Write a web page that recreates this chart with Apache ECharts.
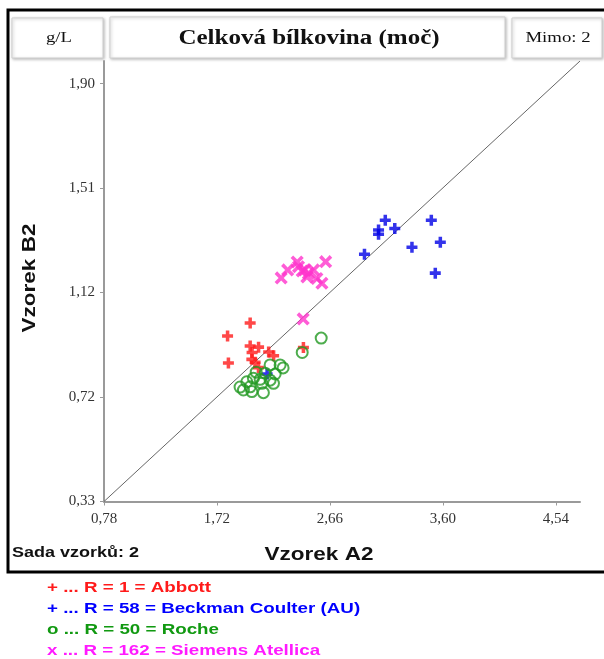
<!DOCTYPE html>
<html><head><meta charset="utf-8">
<script src="https://cdn.jsdelivr.net/npm/echarts@6/dist/echarts.min.js"></script>
<style>html,body{margin:0;padding:0;background:#fff}#c{width:604px;height:659px}</style>
</head><body><div id="c"></div>
<script>
const xTicks = [0.78, 1.72, 2.66, 3.60, 4.54];
const xTickLabels = ['0,78', '1,72', '2,66', '3,60', '4,54'];
const yTicks = [0.33, 0.7225, 1.115, 1.5075, 1.90];
const yTickLabels = ['0,33', '0,72', '1,12', '1,51', '1,90'];
const xRange = [0.78, 4.74];
const yRange = [0.33, 1.985];
const diagonal = [[0.78, 0.33], [4.74, 1.985]];

const abbott = [
  [1.996, 1.001], [1.808, 0.952], [1.815, 0.850], [1.996, 0.914], [2.066, 0.910],
  [2.012, 0.890], [2.150, 0.892], [2.010, 0.864], [2.191, 0.878], [2.065, 0.833],
  [2.439, 0.909], [2.037, 0.853]
];
const beckman = [
  [3.120, 1.387], [3.064, 1.350], [3.064, 1.334], [3.199, 1.356], [2.947, 1.259],
  [3.503, 1.387], [3.578, 1.304], [3.342, 1.285], [3.536, 1.188], [2.137, 0.809]
];
const roche = [
  [2.587, 0.944], [2.429, 0.890], [2.162, 0.843], [2.245, 0.843], [2.121, 0.812],
  [2.204, 0.809], [2.023, 0.793], [2.079, 0.789], [1.968, 0.780], [2.162, 0.786],
  [1.996, 0.761], [2.093, 0.774], [1.940, 0.749], [2.010, 0.743], [2.106, 0.739],
  [2.190, 0.774], [1.912, 0.760], [2.046, 0.816], [2.270, 0.832]
];
const siemens = [
  [2.254, 1.170], [2.308, 1.200], [2.387, 1.230], [2.398, 1.212], [2.429, 1.196],
  [2.448, 1.200], [2.481, 1.187], [2.523, 1.200], [2.468, 1.174], [2.551, 1.168],
  [2.593, 1.150], [2.624, 1.231], [2.437, 1.016]
];
const legendLines = [
  '+ ... R = 1 = Abbott',
  '+ ... R = 58 = Beckman Coulter (AU)',
  'o ... R = 50 = Roche',
  'x ... R = 162 = Siemens Atellica'
];
const legendColors = ['#ff1a1a', '#0000ff', '#119911', '#ff1aff'];

const plusPath = 'path://M3.4,0H6.6V3.4H10V6.6H6.6V10H3.4V6.6H0V3.4H3.4Z';
const thinPlusPath = 'path://M3.8,0H6.2V3.8H10V6.2H6.2V10H3.8V6.2H0V3.8H3.8Z';

function lookup(v, ticks, labels) {
  for (let i = 0; i < ticks.length; i++) if (Math.abs(v - ticks[i]) < 1e-6) return labels[i];
  return '';
}

const chart = echarts.init(document.getElementById('c'), null, {renderer: 'canvas'});
const boxStyle = {fill: '#fff', stroke: '#cfcfcf', lineWidth: 1, shadowBlur: 3, shadowColor: 'rgba(0,0,0,0.25)', shadowOffsetX: 1, shadowOffsetY: 1};
const SX = 1.25;
chart.setOption({
  animation: false,
  backgroundColor: '#fff',
  grid: {left: 104, right: 24, top: 61, bottom: 157.5},
  xAxis: {
    type: 'value', min: xRange[0], max: xRange[1],
    splitLine: {show: false},
    axisLine: {onZero: false, lineStyle: {color: '#9a9a9a', width: 2}},
    axisTick: {show: true, customValues: xTicks, length: 4, lineStyle: {color: '#9a9a9a', width: 1}},
    axisLabel: {customValues: xTicks, formatter: v => lookup(v, xTicks, xTickLabels),
      fontFamily: 'Liberation Serif', fontSize: 15, color: '#333', margin: 10}
  },
  yAxis: {
    type: 'value', min: yRange[0], max: yRange[1],
    splitLine: {show: false},
    axisLine: {show: true, onZero: false, lineStyle: {color: '#9a9a9a', width: 2}},
    axisTick: {show: true, customValues: yTicks, length: 4, lineStyle: {color: '#9a9a9a', width: 1}},
    axisLabel: {customValues: yTicks, formatter: v => lookup(v, yTicks, yTickLabels),
      fontFamily: 'Liberation Serif', fontSize: 15, color: '#333', margin: 9}
  },
  series: [
    {type: 'line', data: diagonal, symbol: 'none', silent: true,
      lineStyle: {color: '#666', width: 1}, z: 1},
    {type: 'scatter', data: abbott, symbol: plusPath, symbolSize: 11,
      itemStyle: {color: '#ff1a1a'}, z: 2},
    {type: 'scatter', data: beckman, symbol: plusPath, symbolSize: 11,
      itemStyle: {color: '#0000e6'}, z: 2},
    {type: 'scatter', data: siemens, symbol: thinPlusPath, symbolSize: 15, symbolRotate: 45,
      itemStyle: {color: '#ff33cc'}, z: 2},
    {type: 'scatter', data: roche, symbol: 'circle', symbolSize: 11,
      itemStyle: {color: 'rgba(0,0,0,0)', borderColor: '#229922', borderWidth: 2}, z: 3}
  ],
  graphic: [
    {type: 'rect', shape: {x: 8, y: 10, width: 610, height: 562}, style: {fill: 'none', stroke: '#000', lineWidth: 3}, z: 0},
    {type: 'rect', shape: {x: 12, y: 18, width: 91, height: 40}, style: boxStyle},
    {type: 'text', x: 59, y: 38, scaleX: SX, style: {text: 'g/L', font: '15px "Liberation Serif"', fill: '#111', align: 'center', verticalAlign: 'middle'}},
    {type: 'rect', shape: {x: 110, y: 17, width: 395, height: 41}, style: boxStyle},
    {type: 'text', x: 309, y: 39, scaleX: SX, style: {text: 'Celková bílkovina (moč)', font: 'bold 20px "Liberation Serif"', fill: '#111', align: 'center', verticalAlign: 'middle'}},
    {type: 'rect', shape: {x: 512, y: 18, width: 90, height: 40}, style: boxStyle},
    {type: 'text', x: 558, y: 38, scaleX: SX, style: {text: 'Mimo: 2', font: '15px "Liberation Serif"', fill: '#111', align: 'center', verticalAlign: 'middle'}},
    {type: 'text', x: 319, y: 555, scaleX: SX, style: {text: 'Vzorek A2', font: 'bold 18px "Liberation Sans"', fill: '#111', align: 'center', verticalAlign: 'middle'}},
    {type: 'text', x: 30, y: 278, rotation: Math.PI / 2, scaleX: SX, style: {text: 'Vzorek B2', font: 'bold 18px "Liberation Sans"', fill: '#111', align: 'center', verticalAlign: 'middle'}},
    {type: 'text', x: 12, y: 553, scaleX: 1.2, style: {text: 'Sada vzorků: 2', font: 'bold 15px "Liberation Sans"', fill: '#111', align: 'left', verticalAlign: 'middle'}},
    ...legendLines.map((t, i) => ({type: 'text', x: 47, y: 588 + i * 21, scaleX: SX,
      style: {text: t, font: 'bold 15px "Liberation Sans"', fill: legendColors[i], align: 'left', verticalAlign: 'middle'}}))
  ]
});
</script></body></html>
